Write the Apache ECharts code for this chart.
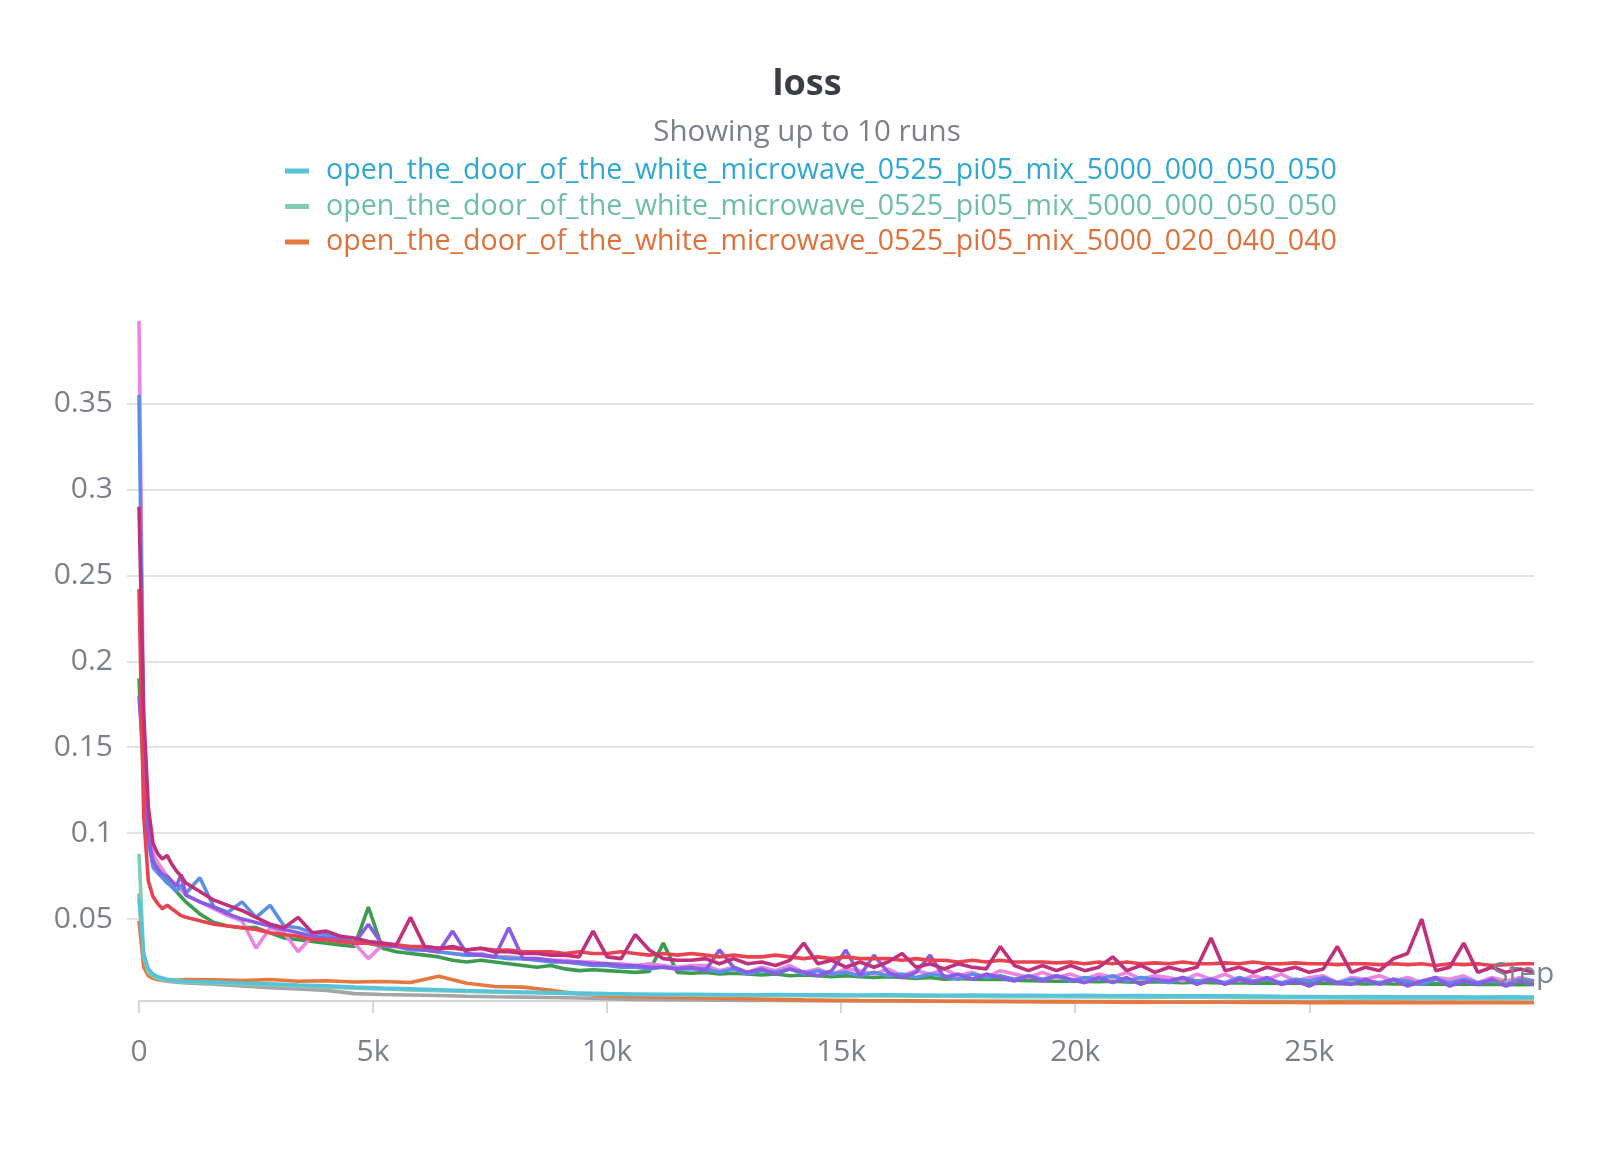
<!DOCTYPE html>
<html>
<head>
<meta charset="utf-8">
<title>loss</title>
<script src="https://cdn.jsdelivr.net/npm/echarts@6/dist/echarts.min.js"></script>
<style>
  html, body { margin: 0; padding: 0; background: #fff; }
  #chart { width: 1614px; height: 1163px; }
</style>
</head>
<body>
<div id="chart"></div>
<script>
// steps for the noisy runs (logged every ~300 steps after the first 1k)
const stepsFine = [
  0, 100, 200, 300, 400, 500, 600, 700, 800, 900, 1000,
  1300, 1600, 1900, 2200, 2500, 2800, 3100, 3400, 3700, 4000, 4300, 4600,
  4900, 5200, 5500, 5800, 6100, 6400, 6700, 7000, 7300, 7600, 7900, 8200,
  8500, 8800, 9100, 9400, 9700, 10000, 10300, 10600, 10900, 11200, 11500, 11800,
  12100, 12400, 12700, 13000, 13300, 13600, 13900, 14200, 14500, 14800, 15100, 15400,
  15700, 16000, 16300, 16600, 16900, 17200, 17500, 17800, 18100, 18400, 18700, 19000,
  19300, 19600, 19900, 20200, 20500, 20800, 21100, 21400, 21700, 22000, 22300, 22600,
  22900, 23200, 23500, 23800, 24100, 24400, 24700, 25000, 25300, 25600, 25900, 26200,
  26500, 26800, 27100, 27400, 27700, 28000, 28300, 28600, 28900, 29200, 29500, 29800
];
// steps for the smooth low runs
const stepsCoarse = [
  0, 100, 200, 300, 400, 600, 800, 1000,
  1600, 2200, 2800, 3400, 4000, 4600, 5200, 5800, 6400, 7000, 7600, 8200,
  8800, 9400, 10000, 10600, 11200, 11800, 12400, 13000, 13600, 14200, 14800, 15400,
  16000, 16600, 17200, 17800, 18400, 19000, 19600, 20200, 20800, 21400, 22000, 22600,
  23200, 23800, 24400, 25000, 25600, 26200, 26800, 27400, 28000, 28600, 29200, 29800
];

const pinkLoss = [
  0.398, 0.16, 0.104, 0.088, 0.083, 0.079, 0.075, 0.072, 0.070, 0.067, 0.064,
  0.060, 0.056, 0.052, 0.049, 0.033, 0.045, 0.042, 0.031, 0.040, 0.038, 0.037, 0.036,
  0.027, 0.035, 0.034, 0.033, 0.032, 0.031, 0.030, 0.029, 0.030, 0.028, 0.028, 0.027,
  0.027, 0.026, 0.026, 0.025, 0.025, 0.024, 0.024, 0.023, 0.024, 0.023, 0.022, 0.023,
  0.023, 0.020, 0.022, 0.019, 0.022, 0.020, 0.023, 0.019, 0.021, 0.018, 0.021, 0.020,
  0.018, 0.021, 0.017, 0.020, 0.018, 0.021, 0.017, 0.019, 0.016, 0.020, 0.018, 0.016,
  0.019, 0.016, 0.018, 0.015, 0.018, 0.016, 0.019, 0.015, 0.017, 0.016, 0.014, 0.018,
  0.015, 0.018, 0.014, 0.017, 0.015, 0.018, 0.014, 0.016, 0.017, 0.013, 0.016, 0.015,
  0.017, 0.014, 0.016, 0.013, 0.016, 0.015, 0.017, 0.013, 0.016, 0.014, 0.016, 0.014
];
const blueLoss = [
  0.355, 0.15, 0.095, 0.080, 0.077, 0.074, 0.071, 0.069, 0.066, 0.070, 0.065,
  0.074, 0.057, 0.054, 0.060, 0.051, 0.058, 0.046, 0.045, 0.042, 0.041, 0.039, 0.037,
  0.036, 0.034, 0.034, 0.032, 0.032, 0.031, 0.030, 0.029, 0.029, 0.028, 0.027, 0.027,
  0.026, 0.025, 0.025, 0.024, 0.023, 0.023, 0.022, 0.022, 0.021, 0.022, 0.021, 0.021,
  0.021, 0.019, 0.021, 0.018, 0.020, 0.019, 0.021, 0.018, 0.020, 0.018, 0.019, 0.017,
  0.019, 0.017, 0.018, 0.016, 0.018, 0.017, 0.015, 0.018, 0.016, 0.017, 0.015, 0.017,
  0.015, 0.017, 0.014, 0.016, 0.015, 0.017, 0.014, 0.016, 0.015, 0.013, 0.016, 0.014,
  0.015, 0.013, 0.016, 0.014, 0.015, 0.013, 0.015, 0.014, 0.016, 0.013, 0.015, 0.014,
  0.013, 0.015, 0.014, 0.012, 0.015, 0.013, 0.015, 0.013, 0.014, 0.012, 0.015, 0.014
];
const magentaLoss = [
  0.290, 0.17, 0.115, 0.094, 0.088, 0.085, 0.087, 0.082, 0.078, 0.075, 0.071,
  0.066, 0.061, 0.058, 0.055, 0.051, 0.047, 0.045, 0.051, 0.042, 0.043, 0.040, 0.039,
  0.037, 0.036, 0.035, 0.051, 0.034, 0.033, 0.034, 0.032, 0.033, 0.031, 0.031, 0.030,
  0.030, 0.029, 0.029, 0.028, 0.043, 0.028, 0.027, 0.041, 0.032, 0.027, 0.026, 0.026,
  0.027, 0.024, 0.027, 0.024, 0.025, 0.023, 0.026, 0.036, 0.024, 0.026, 0.022, 0.025,
  0.022, 0.025, 0.030, 0.022, 0.024, 0.021, 0.024, 0.022, 0.021, 0.034, 0.023, 0.020,
  0.023, 0.020, 0.023, 0.020, 0.022, 0.028, 0.020, 0.023, 0.019, 0.022, 0.020, 0.022,
  0.039, 0.020, 0.022, 0.019, 0.022, 0.020, 0.022, 0.019, 0.021, 0.034, 0.019, 0.022,
  0.020, 0.027, 0.030, 0.050, 0.020, 0.022, 0.036, 0.019, 0.022, 0.019, 0.021, 0.019
];
const redLoss = [
  0.242, 0.110, 0.072, 0.063, 0.059, 0.056, 0.058, 0.056, 0.054, 0.052, 0.051,
  0.049, 0.047, 0.046, 0.045, 0.044, 0.042, 0.041, 0.040, 0.038, 0.038, 0.037, 0.036,
  0.036, 0.035, 0.035, 0.034, 0.034, 0.033, 0.033, 0.032, 0.033, 0.032, 0.032, 0.031,
  0.031, 0.031, 0.030, 0.031, 0.030, 0.030, 0.031, 0.030, 0.029, 0.030, 0.029, 0.030,
  0.029, 0.028, 0.029, 0.028, 0.028, 0.029, 0.028, 0.027, 0.028, 0.027, 0.028, 0.027,
  0.027, 0.027, 0.026, 0.027, 0.026, 0.026, 0.025, 0.026, 0.025, 0.026, 0.025, 0.025,
  0.025, 0.0245, 0.025, 0.024, 0.025, 0.024, 0.025, 0.024, 0.0245, 0.024, 0.025, 0.024,
  0.024, 0.0245, 0.024, 0.025, 0.024, 0.024, 0.0245, 0.024, 0.024, 0.0235, 0.024, 0.024,
  0.0235, 0.024, 0.0235, 0.024, 0.023, 0.024, 0.0235, 0.024, 0.023, 0.0235, 0.024, 0.024
];
const greenLoss = [
  0.190, 0.130, 0.100, 0.088, 0.081, 0.076, 0.072, 0.069, 0.066, 0.063, 0.060,
  0.053, 0.048, 0.046, 0.045, 0.045, 0.042, 0.039, 0.038, 0.037, 0.036, 0.035, 0.034,
  0.057, 0.033, 0.031, 0.030, 0.029, 0.028, 0.026, 0.025, 0.026, 0.025, 0.024, 0.023,
  0.022, 0.023, 0.021, 0.020, 0.0205, 0.020, 0.0195, 0.019, 0.0195, 0.036, 0.019, 0.0185,
  0.019, 0.018, 0.0185, 0.018, 0.0175, 0.018, 0.017, 0.0175, 0.017, 0.0165, 0.017, 0.0165,
  0.016, 0.0165, 0.016, 0.0155, 0.016, 0.015, 0.0155, 0.015, 0.0148, 0.015, 0.0145, 0.0142,
  0.014, 0.0138, 0.014, 0.0137, 0.0135, 0.0138, 0.0134, 0.0132, 0.0135, 0.0133, 0.013, 0.0132,
  0.013, 0.0128, 0.013, 0.0127, 0.0129, 0.0126, 0.0128, 0.0125, 0.0127, 0.0124, 0.0126, 0.0123,
  0.0125, 0.0122, 0.0124, 0.0121, 0.0123, 0.012, 0.0122, 0.0119, 0.0121, 0.012, 0.0118, 0.012
];
const purpleLoss = [
  0.180, 0.140, 0.098, 0.083, 0.079, 0.076, 0.075, 0.072, 0.069, 0.076, 0.064,
  0.060, 0.057, 0.053, 0.050, 0.048, 0.046, 0.044, 0.042, 0.040, 0.039, 0.038, 0.036,
  0.047, 0.035, 0.034, 0.033, 0.032, 0.031, 0.043, 0.030, 0.029, 0.028, 0.045, 0.027,
  0.027, 0.026, 0.025, 0.025, 0.024, 0.024, 0.023, 0.023, 0.022, 0.022, 0.021, 0.022,
  0.020, 0.032, 0.022, 0.019, 0.021, 0.018, 0.021, 0.019, 0.017, 0.020, 0.032, 0.017,
  0.029, 0.019, 0.016, 0.019, 0.029, 0.016, 0.018, 0.015, 0.018, 0.016, 0.014, 0.017,
  0.014, 0.017, 0.015, 0.013, 0.016, 0.013, 0.016, 0.012, 0.015, 0.014, 0.016, 0.012,
  0.015, 0.012, 0.015, 0.013, 0.016, 0.012, 0.014, 0.011, 0.015, 0.013, 0.012, 0.015,
  0.012, 0.015, 0.011, 0.014, 0.016, 0.011, 0.014, 0.012, 0.015, 0.011, 0.014, 0.012
];

const cyanLoss = [
  0.062, 0.030, 0.021, 0.018, 0.0165, 0.0150, 0.0142, 0.0138,
  0.0134, 0.0128, 0.0124, 0.0116, 0.0112, 0.0104, 0.0098, 0.0094, 0.0089, 0.0084, 0.0080, 0.0076,
  0.0072, 0.0069, 0.0066, 0.0064, 0.0062, 0.0062, 0.0061, 0.0060, 0.0061, 0.0059, 0.0060, 0.0058,
  0.0059, 0.0058, 0.0057, 0.0058, 0.0056, 0.0057, 0.0055, 0.0056, 0.0054, 0.0055, 0.0054, 0.0053,
  0.0054, 0.0052, 0.0050, 0.0049, 0.0048, 0.0049, 0.0047, 0.0048, 0.0047, 0.0046, 0.0047, 0.0046
];
const tealLoss = [
  0.088, 0.028, 0.019, 0.0168, 0.0155, 0.0145, 0.0139, 0.0134,
  0.0128, 0.0122, 0.0116, 0.0110, 0.0104, 0.0098, 0.0093, 0.0088, 0.0083, 0.0079, 0.0075, 0.0071,
  0.0068, 0.0065, 0.0062, 0.0060, 0.0058, 0.0057, 0.0056, 0.0055, 0.0055, 0.0054, 0.0053, 0.0053,
  0.0052, 0.0051, 0.0051, 0.0050, 0.0049, 0.0049, 0.0048, 0.0047, 0.0047, 0.0046, 0.0045, 0.0045,
  0.0044, 0.0043, 0.0042, 0.0042, 0.0041, 0.0040, 0.0040, 0.0039, 0.0039, 0.0038, 0.0038, 0.0038
];
const orangeLoss = [
  0.049, 0.022, 0.017, 0.0155, 0.0150, 0.0147, 0.0144, 0.0148,
  0.0146, 0.0142, 0.0148, 0.0138, 0.0141, 0.0134, 0.0137, 0.0131, 0.0167, 0.0127, 0.0108, 0.0104,
  0.0086, 0.0064, 0.0053, 0.0048, 0.0045, 0.0042, 0.0039, 0.0036, 0.0033, 0.0030, 0.0028, 0.0026,
  0.0025, 0.0024, 0.0022, 0.0021, 0.0020, 0.0019, 0.0018, 0.0019, 0.0017, 0.0018, 0.0016, 0.0017,
  0.0016, 0.0015, 0.0016, 0.0014, 0.0015, 0.0014, 0.0015, 0.0013, 0.0014, 0.0013, 0.0014, 0.0013
];
const grayLoss = [
  0.065, 0.025, 0.018, 0.0158, 0.0147, 0.0138, 0.0133, 0.0129,
  0.0121, 0.0111, 0.0101, 0.0093, 0.0085, 0.0066, 0.0061, 0.0058, 0.0055, 0.0051, 0.0048, 0.0046,
  0.0044, 0.0041, 0.0036, 0.0033, 0.0031, 0.0029, 0.0028, 0.0027, 0.0026, 0.0025, 0.0024, 0.0024,
  0.0023, 0.0023, 0.0022, 0.0022, 0.0021, 0.0021, 0.0021, 0.0020, 0.0020, 0.0020, 0.0019, 0.0019,
  0.0019, 0.0019, 0.0018, 0.0018, 0.0018, 0.0018, 0.0017, 0.0017, 0.0017, 0.0017, 0.0017, 0.0016
];

const runA = 'open_the_door_of_the_white_microwave_0525_pi05_mix_5000_000_050_050';
const runB = 'open_the_door_of_the_white_microwave_0525_pi05_mix_5000_000_050_050 '; // same label, second run
const runC = 'open_the_door_of_the_white_microwave_0525_pi05_mix_5000_020_040_040';

const yTicks = [0.05, 0.1, 0.15, 0.2, 0.25, 0.3, 0.35];
const xTicks = [0, 5000, 10000, 15000, 20000, 25000];

const FONT = '"Open Sans", "Noto Sans", sans-serif';

function pairs(steps, vals) {
  return steps.map((s, i) => [s, vals[i]]);
}

// drawing order: later ones on top
const runs = [
  { name: 'run_gray', steps: stepsCoarse, vals: grayLoss, color: '#a5a5a8' },
  { name: runC, steps: stepsCoarse, vals: orangeLoss, color: '#e8773d' },
  { name: runB, steps: stepsCoarse, vals: tealLoss, color: '#7fcdb6' },
  { name: runA, steps: stepsCoarse, vals: cyanLoss, color: '#55c3da' },
  { name: 'run_green', steps: stepsFine, vals: greenLoss, color: '#3d9b50' },
  { name: 'run_pink', steps: stepsFine, vals: pinkLoss, color: '#ec85e2' },
  { name: 'run_blue', steps: stepsFine, vals: blueLoss, color: '#5b8ee6' },
  { name: 'run_purple', steps: stepsFine, vals: purpleLoss, color: '#8a5ce6' },
  { name: 'run_red', steps: stepsFine, vals: redLoss, color: '#ea4350' },
  { name: 'run_magenta', steps: stepsFine, vals: magentaLoss, color: '#c1307a' }
];

const chart = echarts.init(document.getElementById('chart'));

const legendIcon = 'path://M0,0H24V5H0Z M35.8,2.4H36V2.6H35.8Z';

chart.setOption({
  animation: false,
  backgroundColor: '#fff',
  title: [
    {
      text: 'loss',
      left: 'center',
      top: 62,
      textStyle: { fontFamily: FONT, fontSize: 36, fontWeight: 'bold', color: '#3b3e45' }
    },
    {
      text: 'Showing up to 10 runs',
      left: 'center',
      top: 113,
      textStyle: { fontFamily: FONT, fontSize: 29.5, fontWeight: 'normal', color: '#7c8089' }
    }
  ],
  graphic: [
    {
      type: 'text',
      left: 1492,
      top: 959,
      z: 10,
      style: { text: 'Step', font: '30px ' + FONT, fill: '#80848c' }
    }
  ],
  legend: {
    orient: 'vertical',
    left: 280,
    top: 150,
    itemWidth: 36,
    itemHeight: 5,
    itemGap: 3.5,
    icon: legendIcon,
    textStyle: { fontFamily: FONT, fontSize: 28.6, lineHeight: 32 },
    data: [
      { name: runA, itemStyle: { color: '#55c3da' }, textStyle: { color: '#2fa8d4' } },
      { name: runB, itemStyle: { color: '#7fcdb6' }, textStyle: { color: '#6dbfa5' } },
      { name: runC, itemStyle: { color: '#e8773d' }, textStyle: { color: '#e0713a' } }
    ]
  },
  grid: { left: 139, right: 80, top: 321, bottom: 158 },
  xAxis: {
    type: 'value',
    min: 0,
    max: 29800,
    interval: 5000,
    z: 3,
    offset: -4,
    axisLine: { show: true, onZero: false, lineStyle: { color: '#d6d6d6', width: 2 } },
    axisTick: { show: true, length: 12, customValues: xTicks, lineStyle: { color: '#d6d6d6', width: 2 } },
    axisLabel: {
      customValues: xTicks,
      margin: 36,
      fontFamily: FONT, fontSize: 30, color: '#7b7f87',
      formatter: v => (v === 0 ? '0' : (v / 1000) + 'k')
    },
    splitLine: { show: false }
  },
  yAxis: {
    type: 'value',
    min: 0,
    max: 0.398,
    interval: 0.05,
    axisLine: { show: false },
    axisTick: { show: true, length: 12, customValues: yTicks, lineStyle: { color: '#e2e2e2', width: 2 } },
    axisLabel: {
      customValues: yTicks,
      margin: 26,
      fontFamily: FONT, fontSize: 30, color: '#7b7f87',
      formatter: v => String(+(+v).toFixed(2))
    },
    splitLine: {
      show: true, showMinLine: false,
      lineStyle: { color: '#e2e2e2', width: 2 }
    }
  },
  series: runs.map(r => ({
    name: r.name,
    type: 'line',
    showSymbol: false,
    symbol: 'none',
    color: r.color,
    lineStyle: { width: 3.6, color: r.color },
    emphasis: { disabled: true },
    data: pairs(r.steps, r.vals)
  }))
});
</script>
</body>
</html>
